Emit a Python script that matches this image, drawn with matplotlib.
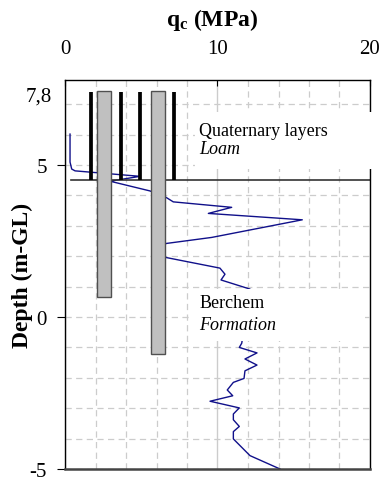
import numpy as np
import matplotlib
matplotlib.use("Agg")
import matplotlib.pyplot as plt
from matplotlib.patches import Rectangle

plt.rcParams['font.family'] = 'Liberation Serif'
plt.rcParams['mathtext.fontset'] = 'custom'
plt.rcParams['mathtext.rm'] = 'Liberation Serif'
plt.rcParams['mathtext.it'] = 'Liberation Serif:italic'
plt.rcParams['mathtext.bf'] = 'Liberation Serif:bold'
plt.rcParams['axes.unicode_minus'] = False

# CPT cone resistance profile (qc in MPa, depth in m-GL)
qc = [0.33, 0.33, 0.44, 0.66, 4.92, 2.95, 5.57, 6.62, 7.10, 10.93, 9.40, 15.56,
      9.62, 6.62, 6.30, 6.62, 10.16, 10.49, 10.23, 12.13,
      11.59, 11.43, 12.59, 11.80, 12.59, 11.80, 11.74, 11.04, 10.64, 11.00,
      9.51, 11.43, 11.04, 11.04, 11.43, 11.04, 11.04, 12.13, 14.10]
depth = [6.02, 5.10, 4.87, 4.81, 4.63, 4.47, 4.15, 3.94, 3.79, 3.61, 3.41, 3.20,
         2.62, 2.42, 2.20, 1.96, 1.61, 1.41, 1.22, 0.92,
         -0.86, -1.00, -1.18, -1.38, -1.58, -1.77, -2.02, -2.15, -2.40, -2.59,
         -2.77, -2.99, -3.19, -3.38, -3.60, -3.77, -4.01, -4.56, -5.00]

# piles (grey) and sheet/casing lines (black)
pile_x = [2.55, 6.11]
pile_top = [7.43, 7.43]
pile_bottom = [0.65, -1.22]
pile_width = 0.95
casing_x = [1.70, 3.67, 4.95, 7.15]
casing_top = 7.42
layer_boundary = 4.5

x_ticks = [0, 10, 20]
y_ticks = [-5, 0, 5]
depth_top = 7.8

fig = plt.figure(figsize=(3.81, 4.81), dpi=100)
ax = fig.add_axes([65 / 381, 1 - 470 / 481, 305 / 381, 389 / 481])

ax.set_xlim(0, 20)
ax.set_ylim(-5, depth_top)

# grid
ax.set_xticks(x_ticks)
ax.set_yticks(y_ticks)
ax.set_xticks(np.arange(0, 21, 2), minor=True)
ax.set_yticks(np.arange(-5, 8, 1), minor=True)
dash = (0, (5, 3.5))
ax.grid(axis='x', which='major', color='#cccccc', lw=1.0, ls='-')
ax.grid(axis='y', which='major', color='#cccccc', lw=0.9, ls=dash)
ax.grid(which='minor', color='#cccccc', lw=0.9, ls=dash)
ax.set_axisbelow(True)

# CPT line
ax.plot(qc, depth, color='#10108a', lw=1.0, zorder=2)

# layer boundary
ax.plot([0.4, 20], [layer_boundary, layer_boundary], color='#333333', lw=1.2, zorder=2.2)

# casings
ax.vlines(casing_x, layer_boundary, casing_top, color='black', lw=2.7, zorder=2.4)

# piles
heights = [t - b for t, b in zip(pile_top, pile_bottom)]
ax.bar(pile_x, heights, bottom=pile_bottom, width=pile_width,
       color='#c0c0c0', edgecolor='#505050', lw=1.0, zorder=3)

# white label boxes
ax.add_patch(Rectangle((8.5, 4.87), 12.0, 1.87, facecolor='white', edgecolor='none',
                       zorder=4, clip_on=False))
ax.add_patch(Rectangle((8.39, -0.79), 11.28, 1.71, facecolor='white', edgecolor='none',
                       zorder=4, clip_on=False))
ax.text(8.79, 6.13, 'Quaternary layers', fontsize=13, va='center', ha='left', zorder=5)
ax.text(8.79, 5.53, 'Loam', fontsize=13, style='italic', va='center', ha='left', zorder=5)
ax.text(8.79, 0.49, 'Berchem', fontsize=13, va='center', ha='left', zorder=5)
ax.text(8.79, -0.26, 'Formation', fontsize=13, style='italic', va='center', ha='left', zorder=5)

# axes styling
ax.xaxis.tick_top()
ax.tick_params(axis='x', which='major', direction='in', length=4, pad=16, labelsize=15)
ax.tick_params(axis='y', which='major', direction='out', length=6, pad=7, labelsize=15)
ax.tick_params(which='minor', length=0)
for s in ['left', 'top', 'right']:
    ax.spines[s].set_color('black')
    ax.spines[s].set_linewidth(1.0)
ax.spines['bottom'].set_color('#444444')
ax.spines['bottom'].set_linewidth(1.8)

fig.text(52 / 381, 1 - 97 / 481, '7,8', fontsize=15, ha='right', va='center')

fig.text(212 / 381, 1 - 20 / 481, r'$\mathbf{q_c}$ (MPa)', fontsize=17,
         fontweight='bold', ha='center', va='center')
fig.text(22 / 381, 1 - 275 / 481, 'Depth (m-GL)', fontsize=17, fontweight='bold',
         rotation=90, ha='center', va='center')

fig.savefig('out.png', dpi=100)
